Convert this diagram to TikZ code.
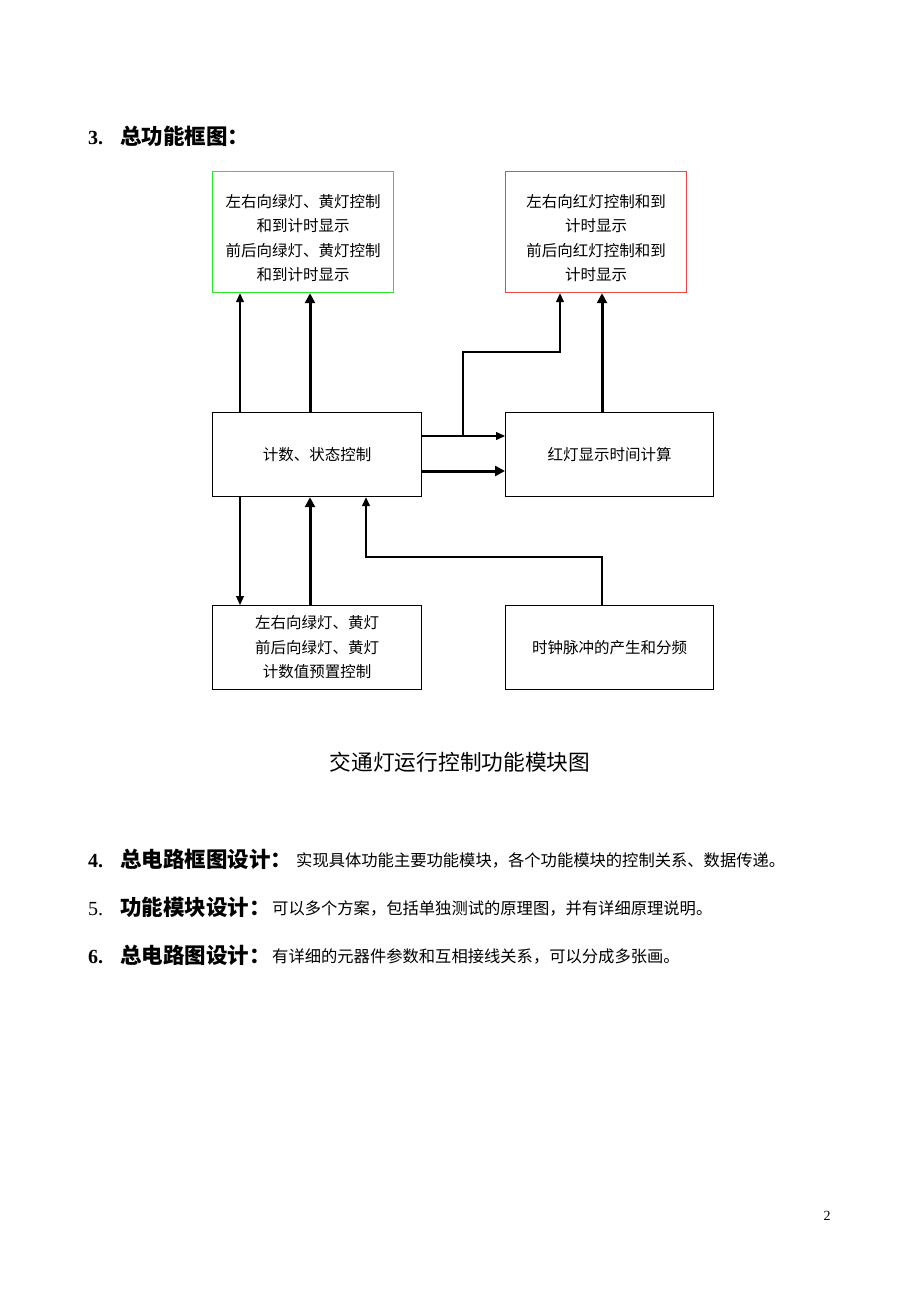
\documentclass[tikz,border=0pt]{standalone}
\usepackage{fontspec}
\setmainfont{Liberation Serif}
\newfontfamily\cjk{Noto Sans CJK SC}
\usetikzlibrary{arrows.meta}
\definecolor{gbox}{RGB}{40,230,40}
\definecolor{rbox}{RGB}{240,70,70}
\begin{document}
\begin{tikzpicture}[x=1pt,y=-1pt,
  box/.style={draw,line width=1.2pt,inner sep=0pt,anchor=north west},
  btxt/.style={align=center,inner sep=0pt,font=\cjk\fontsize{15.5}{24.5}\selectfont},
  thin/.style={line width=1.3pt,-{Triangle[length=9pt,width=8pt]}},
  thick/.style={line width=3pt,-{Triangle[length=10pt,width=10pt]}},
  head/.style={anchor=base west,inner sep=0pt,font=\cjk\bfseries\fontsize{21.5}{24}\selectfont},
  num/.style={anchor=base west,inner sep=0pt,font=\fontsize{20}{24}\selectfont},
  body/.style={anchor=base west,inner sep=0pt,font=\cjk\fontsize{16.3}{20}\selectfont}]
\useasboundingbox (0,0) rectangle (920,1302);
% heading
\node[num,font=\bfseries\fontsize{20}{24}\selectfont] (h3n) at (88,144) {3.};
\node[head] (h3) at (120,144) {总功能框图：};
% boxes
\node[box,draw=gbox,minimum width=181pt,minimum height=121pt] (g) at (212,171) {};
\node[btxt] (gt) at ([yshift=-6]g.center) {左右向绿灯、黄灯控制\\和到计时显示\\前后向绿灯、黄灯控制\\和到计时显示};
\node[box,draw=rbox,minimum width=181pt,minimum height=121pt] (r) at (505,171) {};
\node[btxt] (rt) at ([yshift=-6]r.center) {左右向红灯控制和到\\计时显示\\前后向红灯控制和到\\计时显示};
\node[box,minimum width=209pt,minimum height=84pt] (c) at (212,412) {};
\node[btxt] (ct) at (c.center) {计数、状态控制};
\node[box,minimum width=208pt,minimum height=84pt] (rc) at (505,412) {};
\node[btxt] (rct) at (rc.center) {红灯显示时间计算};
\node[box,minimum width=209pt,minimum height=84pt] (p) at (212,605) {};
\node[btxt] (pt) at (p.center) {左右向绿灯、黄灯\\前后向绿灯、黄灯\\计数值预置控制};
\node[box,minimum width=208pt,minimum height=84pt] (k) at (505,605) {};
\node[btxt] (kt) at (k.center) {时钟脉冲的产生和分频};
% connectors
\draw[thin] (c.north west -| 240,0) -- (g.south west -| 240,0);
\draw[thick] (c.north west -| 310,0) -- (g.south west -| 310,0);
\coordinate (br) at (463,436);
\draw[thin] (c.east |- br) -- (rc.west |- br);
\draw[thin] (br) -- (463,352) -- (560,352) -- (r.south west -| 560,0);
\draw[thick] (c.east |- 0,471) -- (rc.west |- 0,471);
\draw[thick] (rc.north west -| 602,0) -- (r.south west -| 602,0);
\draw[thin] (c.south west -| 240,0) -- (p.north west -| 240,0);
\draw[thick] (p.north west -| 310,0) -- (c.south west -| 310,0);
\draw[thin] (k.north west -| 602,0) -- (602,557) -- (366,557) -- (c.south west -| 366,0);
% caption
\node[inner sep=0pt,font=\cjk\fontsize{21.7}{24}\selectfont] (cap) at (460,762) {交通灯运行控制功能模块图};
% items
\node[num,font=\bfseries\fontsize{20}{24}\selectfont] (n4) at (88,867) {4.};
\node[head] (h4) at (120,867) {总电路框图设计：};
\node[body] (b4) at (296,866) {实现具体功能主要功能模块，各个功能模块的控制关系、数据传递。};
\node[num] (n5) at (88,915) {5.};
\node[head] (h5) at (120,915) {功能模块设计：};
\node[body] (b5) at (272,914) {可以多个方案，包括单独测试的原理图，并有详细原理说明。};
\node[num,font=\bfseries\fontsize{20}{24}\selectfont] (n6) at (88,963) {6.};
\node[head] (h6) at (120,963) {总电路图设计：};
\node[body] (b6) at (272,962) {有详细的元器件参数和互相接线关系，可以分成多张画。};
\node[inner sep=0pt,font=\fontsize{14}{16}\selectfont] (pg) at (827,1216) {2};
\end{tikzpicture}
\end{document}
